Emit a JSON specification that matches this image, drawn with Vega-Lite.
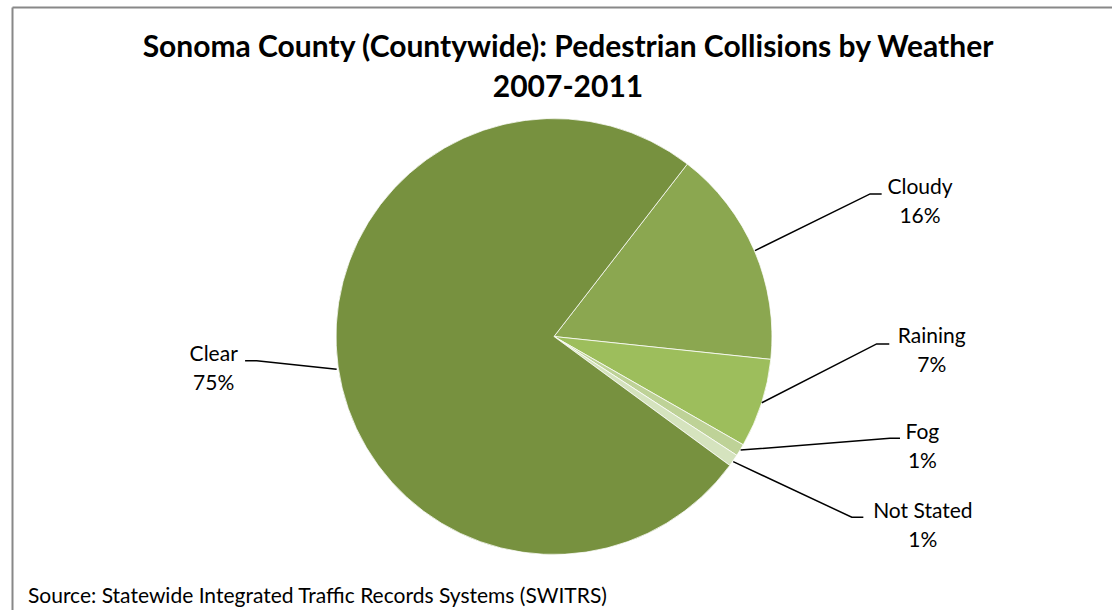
{
  "$schema": "https://vega.github.io/schema/vega-lite/v6.json",
  "autosize": "none",
  "width": 1100,
  "height": 603,
  "padding": {"left": 12, "top": 7, "right": 0, "bottom": 0},
  "background": "white",
  "title": {
    "text": ["Sonoma County (Countywide): Pedestrian Collisions by Weather", "2007-2011"],
    "frame": "group",
    "anchor": "middle",
    "offset": -96,
    "dx": 6,
    "font": "Lato",
    "fontSize": 30,
    "fontWeight": "bold",
    "color": "#000000",
    "lineHeight": 40
  },
  "config": {
    "view": {"stroke": null},
    "font": "Lato"
  },
  "datasets": {
    "weather": [
      {"weather": "Cloudy", "share": 16.2},
      {"weather": "Raining", "share": 6.6},
      {"weather": "Fog", "share": 0.9},
      {"weather": "Not Stated", "share": 0.9},
      {"weather": "Clear", "share": 75.4}
    ],
    "labels": [
      {"weather": "Cloudy", "text": "Cloudy\n16%", "lx": 1.679, "ly": 0.681},
      {"weather": "Raining", "text": "Raining\n7%", "lx": 1.733, "ly": 0.0},
      {"weather": "Fog", "text": "Fog\n1%", "lx": 1.69, "ly": -0.444},
      {"weather": "Not Stated", "text": "Not Stated\n1%", "lx": 1.692, "ly": -0.804},
      {"weather": "Clear", "text": "Clear\n75%", "lx": -1.561, "ly": -0.085}
    ],
    "leaders": [
      {"weather": "Cloudy", "step": 1, "px": 0.922, "py": 0.394},
      {"weather": "Cloudy", "step": 2, "px": 1.45, "py": 0.654},
      {"weather": "Cloudy", "step": 3, "px": 1.503, "py": 0.654},
      {"weather": "Raining", "step": 1, "px": 0.953, "py": -0.304},
      {"weather": "Raining", "step": 2, "px": 1.48, "py": -0.034},
      {"weather": "Raining", "step": 3, "px": 1.538, "py": -0.034},
      {"weather": "Fog", "step": 1, "px": 0.856, "py": -0.521},
      {"weather": "Fog", "step": 2, "px": 1.541, "py": -0.467},
      {"weather": "Fog", "step": 3, "px": 1.587, "py": -0.467},
      {"weather": "Not Stated", "step": 1, "px": 0.822, "py": -0.574},
      {"weather": "Not Stated", "step": 2, "px": 1.366, "py": -0.829},
      {"weather": "Not Stated", "step": 3, "px": 1.419, "py": -0.829},
      {"weather": "Clear", "step": 1, "px": -0.997, "py": -0.15},
      {"weather": "Clear", "step": 2, "px": -1.364, "py": -0.111},
      {"weather": "Clear", "step": 3, "px": -1.417, "py": -0.111}
    ],
    "source": [
      {"text": "Source: Statewide Integrated Traffic Records Systems (SWITRS)", "sx": -2.413, "sy": -1.195}
    ]
  },
  "encoding": {
    "x": {
      "type": "quantitative",
      "scale": {"domain": [-2.4862, 2.5596], "nice": false, "zero": false},
      "axis": {"orient": "top", "title": null, "labels": false, "ticks": false, "grid": false, "domainColor": "#888888", "domainWidth": 2}
    },
    "y": {
      "type": "quantitative",
      "scale": {"domain": [-1.2546, 1.5115], "nice": false, "zero": false},
      "axis": {"title": null, "labels": false, "ticks": false, "grid": false, "domainColor": "#888888", "domainWidth": 2}
    }
  },
  "layer": [
    {
      "data": {"name": "weather"},
      "transform": [
        {"calculate": "indexof(['Cloudy', 'Raining', 'Fog', 'Not Stated', 'Clear'], datum.weather)", "as": "slice_order"}
      ],
      "mark": {"type": "arc", "outerRadius": 218, "stroke": "#ffffff", "strokeWidth": 0.75},
      "encoding": {
        "x": {"datum": 0, "type": "quantitative"},
        "y": {"datum": 0, "type": "quantitative"},
        "theta": {"field": "share", "type": "quantitative", "stack": true, "scale": {"range": [0.658, 6.9412]}},
        "order": {"field": "slice_order", "type": "quantitative", "sort": "ascending"},
        "color": {
          "field": "weather",
          "type": "nominal",
          "scale": {
            "domain": ["Cloudy", "Raining", "Fog", "Not Stated", "Clear"],
            "range": ["#8BA750", "#9DBE5C", "#BED297", "#D5E3BE", "#77913F"]
          },
          "legend": null
        }
      }
    },
    {
      "data": {"name": "leaders"},
      "mark": {"type": "line", "color": "#000000", "strokeWidth": 1.5},
      "encoding": {
        "x": {"field": "px", "type": "quantitative"},
        "y": {"field": "py", "type": "quantitative"},
        "detail": {"field": "weather"},
        "order": {"field": "step", "type": "quantitative"}
      }
    },
    {
      "data": {"name": "labels"},
      "mark": {"type": "text", "lineBreak": "\n", "fontSize": 21, "lineHeight": 29, "align": "center", "baseline": "middle", "color": "#000000"},
      "encoding": {
        "x": {"field": "lx", "type": "quantitative"},
        "y": {"field": "ly", "type": "quantitative"},
        "text": {"field": "text"}
      }
    },
    {
      "data": {"name": "source"},
      "mark": {"type": "text", "fontSize": 21, "align": "left", "baseline": "middle", "color": "#000000"},
      "encoding": {
        "x": {"field": "sx", "type": "quantitative"},
        "y": {"field": "sy", "type": "quantitative"},
        "text": {"field": "text"}
      }
    }
  ]
}
